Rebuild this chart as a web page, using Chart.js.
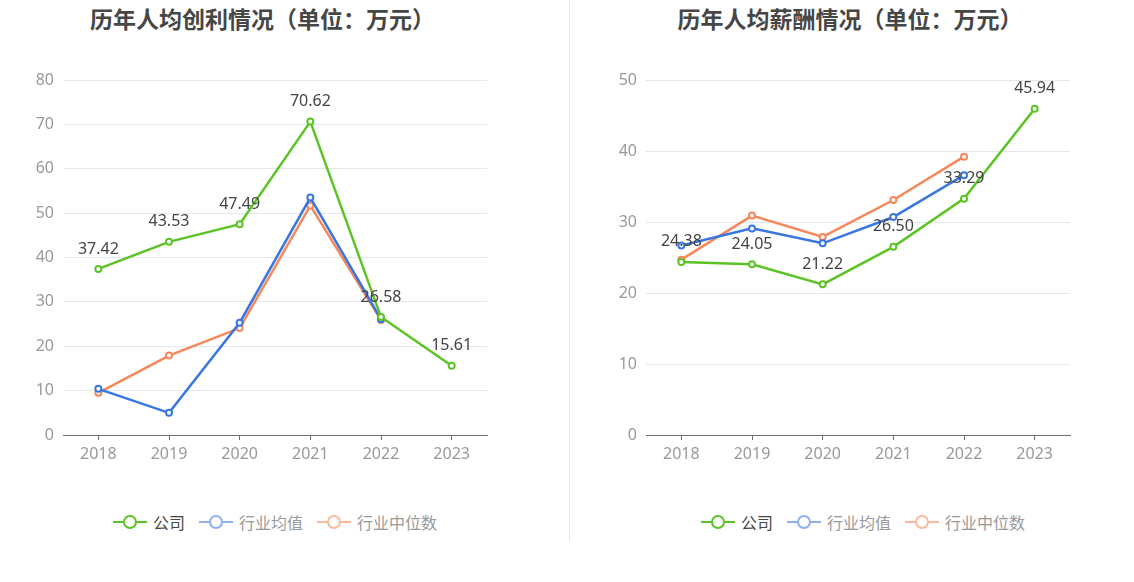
<!DOCTYPE html>
<html>
<head>
<meta charset="utf-8">
<script src="https://cdn.jsdelivr.net/npm/chart.js@4"></script>
<style>
    body { margin: 0; background: #fff; width: 1134px; height: 582px; position: relative; overflow: hidden;
           font-family: "Noto Sans CJK SC", "Noto Sans", sans-serif; }
    .title { position: absolute; top: 1px; font-size: 23px; font-weight: bold; color: #464646; text-align: center; }
    .box { position: absolute; top: 0; height: 475px; }
    .divider { position: absolute; left: 569px; top: 0; width: 1px; height: 542px; background: #ececec; }
    .legend { position: absolute; top: 510px; display: flex; justify-content: center; font-size: 16px; }
    .legend .item { display: flex; align-items: center; margin: 0 7px; }
    .legend .sym { position: relative; width: 34px; height: 24px; margin-right: 6px; }
    .legend .sym .ln { position: absolute; left: 0; right: 0; top: 11px; height: 2px; }
    .legend .sym .dot { position: absolute; left: 10px; top: 5px; width: 10px; height: 10px; border-radius: 50%;
                        border: 2px solid; background: #fff; }
</style>
</head>
<body>
<div class="title" style="left:0;width:525px;">历年人均创利情况（单位：万元）</div>
<div class="title" style="left:580px;width:540px;">历年人均薪酬情况（单位：万元）</div>
<div class="box" style="left:0;width:493px;"><canvas id="profit-chart"></canvas></div>
<div class="box" style="left:570px;width:506px;"><canvas id="salary-chart"></canvas></div>
<div class="divider"></div>
<div class="legend" id="legend-left" style="left:0;width:550px;"></div>
<div class="legend" id="legend-right" style="left:580px;width:566px;"></div>
<script>
const years = ['2018', '2019', '2020', '2021', '2022', '2023'];
const seriesNames = ['公司', '行业均值', '行业中位数'];

// 人均创利
const profitCompany = [37.42, 43.53, 47.49, 70.62, 26.58, 15.61];
const profitAvg = [10.4, 5.0, 25.3, 53.5, 26.1, null];
const profitMedian = [9.5, 17.9, 24.1, 51.7, 25.9, null];
const profitTicks = [0, 10, 20, 30, 40, 50, 60, 70, 80];

// 人均薪酬
const salaryCompany = [24.38, 24.05, 21.22, 26.50, 33.29, 45.94];
const salaryAvg = [26.7, 29.1, 27.0, 30.7, 36.6, null];
const salaryMedian = [24.7, 30.9, 27.9, 33.1, 39.2, null];
const salaryTicks = [0, 10, 20, 30, 40, 50];

const GREEN = '#5bc424';
const BLUE = '#3a76e2';
const ORANGE = '#f7875a';
const FONT = '"Noto Sans CJK SC", "Noto Sans", sans-serif';
const NUM_FONT = '"Noto Sans", sans-serif';

// draws value labels above company points
const valueLabels = {
    id: 'valueLabels',
    afterDatasetsDraw(chart) {
        const ctx = chart.ctx;
        const meta = chart.getDatasetMeta(0);
        const data = chart.data.datasets[0].data;
        ctx.save();
        ctx.font = '16px ' + NUM_FONT;
        ctx.fillStyle = '#444';
        ctx.textAlign = 'center';
        ctx.textBaseline = 'middle';
        meta.data.forEach((pt, i) => {
            if (data[i] == null) return;
            ctx.fillText(data[i].toFixed(2), pt.x, pt.y - 20);
        });
        ctx.restore();
    }
};

function lineSet(label, data, color) {
    return {
        label: label,
        data: data,
        borderColor: color,
        backgroundColor: '#fff',
        borderWidth: 2.5,
        pointRadius: 3,
        pointBorderWidth: 2,
        pointBackgroundColor: '#fff',
        pointBorderColor: color,
        tension: 0,
        spanGaps: false
    };
}

function makeChart(id, company, avg, median, ticks, yWidth) {
    const ctx = document.getElementById(id).getContext('2d');
    return new Chart(ctx, {
        type: 'line',
        data: {
            labels: years,
            datasets: [
                lineSet(seriesNames[0], company, GREEN),
                lineSet(seriesNames[1], avg, BLUE),
                lineSet(seriesNames[2], median, ORANGE)
            ]
        },
        options: {
            responsive: true,
            maintainAspectRatio: false,
            animation: false,
            layout: { padding: { top: 80, right: 0, left: 0, bottom: 0 } },
            plugins: {
                legend: { display: false },
                tooltip: { enabled: false }
            },
            scales: {
                x: {
                    offset: true,
                    grid: { offset: false, drawOnChartArea: false, drawTicks: true, tickLength: 5, color: '#6e7079' },
                    border: { color: '#6e7079', width: 1 },
                    ticks: { color: '#999', font: { size: 16, family: NUM_FONT }, padding: 5, maxRotation: 0 },
                    afterFit(scale) { scale.height = 40; }
                },
                y: {
                    min: ticks[0],
                    max: ticks[ticks.length - 1],
                    afterBuildTicks(scale) { scale.ticks = ticks.map(v => ({ value: v })); },
                    grid: { color: '#e3e7f0', drawTicks: false },
                    border: { display: false },
                    ticks: { color: '#999', font: { size: 16, family: NUM_FONT }, padding: 9 },
                    afterFit(scale) { scale.width = yWidth; }
                }
            }
        },
        plugins: [valueLabels]
    });
}

function renderLegend(id) {
    const colors = [[GREEN, GREEN, '#444'], ['#8fb1f0', '#8fb1f0', '#999'], ['#fbb89c', '#fbb89c', '#999']];
    document.getElementById(id).innerHTML = seriesNames.map((name, i) => `
        <div class="item">
            <div class="sym"><div class="ln" style="background:${colors[i][0]}"></div>
            <div class="dot" style="border-color:${colors[i][1]}"></div></div>
            <span style="color:${colors[i][2]}">${name}</span>
        </div>`).join('');
}

makeChart('profit-chart', profitCompany, profitAvg, profitMedian, profitTicks, 63);
makeChart('salary-chart', salaryCompany, salaryAvg, salaryMedian, salaryTicks, 76);
renderLegend('legend-left');
renderLegend('legend-right');
</script>
</body>
</html>
